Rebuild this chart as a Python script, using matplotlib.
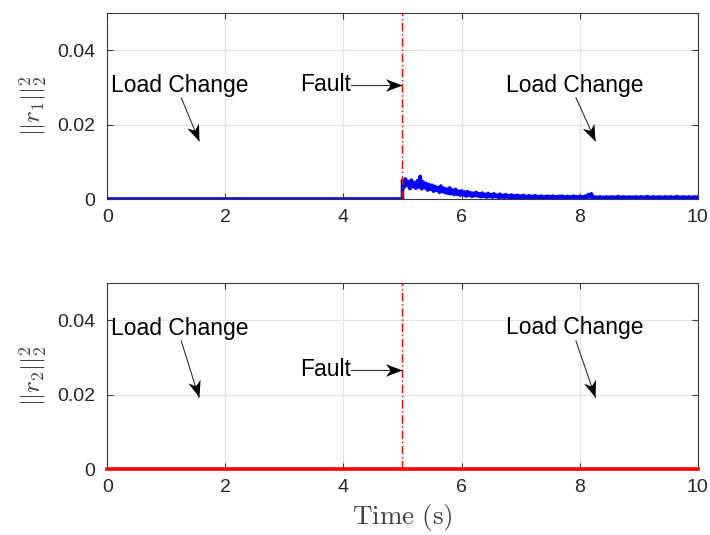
import numpy as np
import matplotlib
matplotlib.use("Agg")
import matplotlib.pyplot as plt
from matplotlib.path import Path
from matplotlib.markers import MarkerStyle
from matplotlib.transforms import Affine2D

plt.rcParams['font.family'] = ['Liberation Sans', 'DejaVu Sans']
plt.rcParams['mathtext.fontset'] = 'cm'

# Residual norm ||r1||^2, zero before the fault and sampled every 0.025 s after it
fault_time = 5.0
r1_pre_t = [0.0, 5.0]
r1_pre = [0.0, 0.0]
r1_post = [
    0.0050, 0.0031, 0.0054, 0.0036, 0.0047, 0.0028, 0.0051, 0.0033, 0.0044, 0.0029,
    0.0049, 0.0032, 0.0061, 0.0027, 0.0046, 0.0030, 0.0042, 0.0024, 0.0039, 0.0026,
    0.0037, 0.0021, 0.0034, 0.0023, 0.0031, 0.0018, 0.0035, 0.0020, 0.0029, 0.0017,
    0.0027, 0.0015, 0.0030, 0.0014, 0.0024, 0.0012, 0.0026, 0.0013, 0.0021, 0.0010,
    0.0022, 0.0011, 0.0019, 0.0008, 0.0020, 0.0010, 0.0017, 0.0007, 0.0016, 0.0009,
    0.0018, 0.0008, 0.0014, 0.0006, 0.0016, 0.0007, 0.0013, 0.0005, 0.0015, 0.0006,
    0.0012, 0.0005, 0.0014, 0.0006, 0.0011, 0.0004, 0.0013, 0.0005, 0.0010, 0.0004,
    0.0012, 0.0005, 0.0009, 0.0003, 0.0011, 0.0004, 0.0009, 0.0003, 0.0010, 0.0004,
    0.0008, 0.0003, 0.0010, 0.0004, 0.0007, 0.0002, 0.0009, 0.0003, 0.0007, 0.0003,
    0.0009, 0.0002, 0.0007, 0.0003, 0.0008, 0.0002, 0.0006, 0.0003, 0.0008, 0.0002,
    0.0007, 0.0003, 0.0008, 0.0002, 0.0006, 0.0003, 0.0007, 0.0002, 0.0008, 0.0003,
    0.0006, 0.0002, 0.0007, 0.0003, 0.0006, 0.0002, 0.0008, 0.0003, 0.0006, 0.0002,
    0.0007, 0.0003, 0.0006, 0.0002, 0.0008, 0.0004, 0.0012, 0.0005, 0.0014, 0.0003,
    0.0006, 0.0002, 0.0005, 0.0003, 0.0006, 0.0002, 0.0005, 0.0002, 0.0006, 0.0003,
    0.0005, 0.0002, 0.0006, 0.0003, 0.0005, 0.0002, 0.0007, 0.0002, 0.0005, 0.0003,
    0.0006, 0.0002, 0.0005, 0.0002, 0.0006, 0.0003, 0.0005, 0.0002, 0.0006, 0.0002,
    0.0005, 0.0003, 0.0006, 0.0002, 0.0005, 0.0002, 0.0007, 0.0003, 0.0005, 0.0002,
    0.0006, 0.0002, 0.0005, 0.0003, 0.0006, 0.0002, 0.0005, 0.0002, 0.0006, 0.0003,
    0.0005, 0.0002, 0.0006, 0.0002, 0.0005, 0.0003, 0.0007, 0.0002, 0.0005, 0.0002,
    0.0006, 0.0003, 0.0005, 0.0002, 0.0006, 0.0002, 0.0005, 0.0003, 0.0006, 0.0002,
    0.0005,
]
r1_post_t = np.linspace(fault_time, 10.0, len(r1_post))

# Residual norm ||r2||^2 stays at zero for the whole run
r2_t = [0.0, 10.0]
r2 = [0.0, 0.0]

xticks = [0, 2, 4, 6, 8, 10]
yticks = [0, 0.02, 0.04]
ytick_labels = ['0', '0.02', '0.04']

fig = plt.figure(figsize=(7.1, 5.35), dpi=100)
ax1 = fig.add_axes([0.1514, 0.628, 0.831, 0.348])
ax2 = fig.add_axes([0.1514, 0.1228, 0.831, 0.3477])

spine_c = '#3a3a3a'
text_c = '#262626'

# Arrowhead with a notched back, pointing along +x with its tip at the origin
head_path = Path([(0, 0), (-1.0, 0.38), (-0.7, 0.0), (-1.0, -0.38), (0, 0)],
                 [Path.MOVETO, Path.LINETO, Path.LINETO, Path.LINETO, Path.CLOSEPOLY])


def style(ax):
    ax.set_xlim(0, 10)
    ax.set_ylim(0, 0.05)
    ax.set_xticks(xticks)
    ax.set_yticks(yticks)
    ax.set_yticklabels(ytick_labels)
    ax.grid(True, color='#e3e3e3', lw=0.8)
    ax.set_axisbelow(True)
    ax.tick_params(direction='in', top=True, right=True, length=4,
                   labelsize=14, colors=spine_c, labelcolor=text_c)
    ax.tick_params(axis='y', pad=9)
    ax.tick_params(axis='x', pad=7)
    for s in ax.spines.values():
        s.set_color(spine_c)
        s.set_linewidth(0.8)


def arrow(ax, tail, tip):
    ax.plot([tail[0], tip[0]], [tail[1], tip[1]], color='#333333', lw=0.8, zorder=5)
    p0 = ax.transData.transform(tail)
    p1 = ax.transData.transform(tip)
    ang = np.degrees(np.arctan2(p1[1] - p0[1], p1[0] - p0[0]))
    m = MarkerStyle(head_path, transform=Affine2D().rotate_deg(ang))
    ax.plot([tip[0]], [tip[1]], marker=m, ms=24, color='black', mew=0, zorder=6)


def annotate(ax, y_lc_left, y_lc_right, lc_tail_y, lc_tip_y, y_fault):
    ax.text(0.054, y_lc_left, 'Load Change', fontsize=16.5, ha='left', va='center', color='black')
    arrow(ax, (1.25, lc_tail_y), (1.55, lc_tip_y))
    ax.text(6.76, y_lc_right, 'Load Change', fontsize=16.5, ha='left', va='center', color='black')
    arrow(ax, (7.94, lc_tail_y), (8.27, lc_tip_y))
    ax.text(4.12, y_fault, 'Fault', fontsize=16.5, ha='right', va='center', color='black')
    arrow(ax, (4.13, y_fault), (fault_time, y_fault))


# Top: residual of the first detector
style(ax1)
ax1.plot(list(r1_pre_t) + list(r1_post_t), list(r1_pre) + list(r1_post),
         color='#0000ff', lw=2.6, zorder=3)
ax1.axvline(fault_time, color='#ff0000', lw=1.0, ls=(0, (6, 2, 1, 2)), zorder=4)
ax1.set_ylabel(r'$||r_1||_2^2$', fontsize=18, color='#404040', labelpad=5)
annotate(ax1, 0.0304, 0.0305, 0.0272, 0.0157, 0.0307)

# Bottom: residual of the second detector
style(ax2)
ax2.plot(r2_t, r2, color='#ff0000', lw=2.6, zorder=3, clip_on=False)
ax2.axvline(fault_time, color='#ff0000', lw=1.0, ls=(0, (6, 2, 1, 2)), zorder=4)
ax2.set_ylabel(r'$||r_2||_2^2$', fontsize=18, color='#404040', labelpad=5)
ax2.set_xlabel(r'$\mathrm{Time\ (s)}$', fontsize=19.5, color='#404040', labelpad=4)
annotate(ax2, 0.0378, 0.0381, 0.0345, 0.0193, 0.0268)

fig.savefig('out.png', dpi=100)
